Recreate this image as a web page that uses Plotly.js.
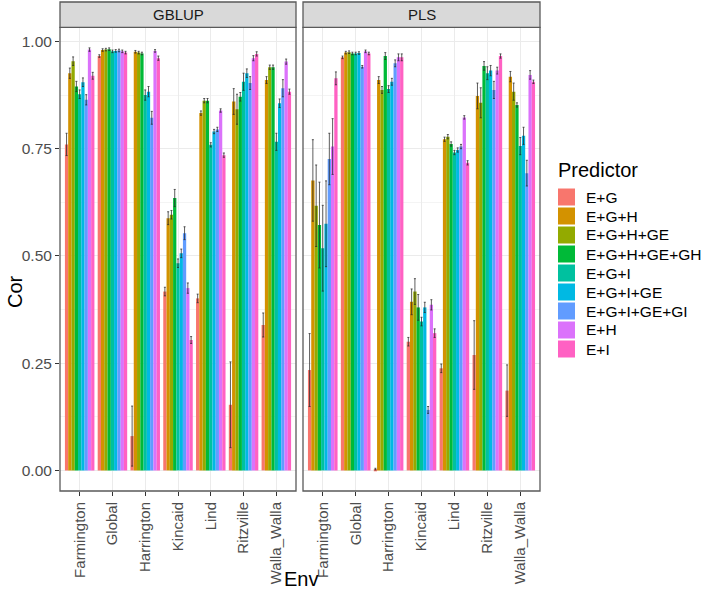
<!DOCTYPE html>
<html>
<head>
<meta charset="utf-8">
<script src="https://cdn.plot.ly/plotly-3.0.1.min.js"></script>
<style>
  html, body { margin: 0; padding: 0; background: #fff; }
  #chart { width: 706px; height: 602px; }
</style>
</head>
<body>
<div id="chart"></div>
<script>
// environments on the x axis, one facet per model
const envs = ["Farmington", "Global", "Harrington", "Kincaid", "Lind", "Ritzville", "Walla_Walla"];
const models = ["GBLUP", "PLS"];
const predictors = ["E+G", "E+G+H", "E+G+H+GE", "E+G+H+GE+GH", "E+G+I", "E+G+I+GE", "E+G+I+GE+GI", "E+H", "E+I"];
const colors = ["#F8766D", "#D39200", "#93AA00", "#00BA38", "#00C19F", "#00B9E3", "#619CFF", "#DB72FB", "#FF61C3"];
const yTicks = [0, 0.25, 0.5, 0.75, 1];
const yTickText = ["0.00", "0.25", "0.50", "0.75", "1.00"];

// mean correlation, one row per predictor (same order as envs)
const gblupCor = [
  [0.760, 0.966, 0.080, 0.417, 0.401, 0.153, 0.339],
  [0.926, 0.980, 0.976, 0.588, 0.833, 0.860, 0.910],
  [0.954, 0.981, 0.974, 0.596, 0.862, 0.842, 0.940],
  [0.895, 0.982, 0.972, 0.635, 0.862, 0.871, 0.940],
  [0.877, 0.977, 0.875, 0.483, 0.759, 0.906, 0.766],
  [0.905, 0.978, 0.883, 0.506, 0.790, 0.926, 0.856],
  [0.864, 0.979, 0.822, 0.553, 0.795, 0.903, 0.891],
  [0.981, 0.977, 0.978, 0.425, 0.839, 0.961, 0.953],
  [0.920, 0.974, 0.961, 0.304, 0.735, 0.971, 0.883]
];
const gblupErr = [
  [0.026, 0.003, 0.070, 0.010, 0.010, 0.100, 0.028],
  [0.012, 0.003, 0.003, 0.015, 0.005, 0.030, 0.008],
  [0.010, 0.003, 0.003, 0.010, 0.005, 0.035, 0.005],
  [0.012, 0.003, 0.003, 0.020, 0.005, 0.010, 0.005],
  [0.010, 0.003, 0.012, 0.010, 0.005, 0.020, 0.020],
  [0.010, 0.003, 0.012, 0.010, 0.005, 0.010, 0.010],
  [0.012, 0.003, 0.015, 0.015, 0.005, 0.015, 0.020],
  [0.004, 0.003, 0.003, 0.012, 0.004, 0.006, 0.006],
  [0.008, 0.003, 0.005, 0.008, 0.005, 0.005, 0.006]
];
const plsCor = [
  [0.234, 0.963, 0.003, 0.300, 0.238, 0.269, 0.186],
  [0.676, 0.974, 0.910, 0.393, 0.772, 0.873, 0.918],
  [0.617, 0.975, 0.887, 0.417, 0.778, 0.857, 0.883],
  [0.572, 0.972, 0.966, 0.380, 0.761, 0.943, 0.852],
  [0.518, 0.972, 0.889, 0.347, 0.741, 0.926, 0.756],
  [0.575, 0.973, 0.906, 0.380, 0.747, 0.932, 0.780],
  [0.726, 0.941, 0.949, 0.141, 0.755, 0.887, 0.693],
  [0.755, 0.977, 0.963, 0.386, 0.823, 0.932, 0.922],
  [0.914, 0.972, 0.963, 0.320, 0.717, 0.966, 0.906]
];
const plsErr = [
  [0.085, 0.003, 0.002, 0.010, 0.010, 0.080, 0.060],
  [0.095, 0.003, 0.008, 0.030, 0.005, 0.030, 0.012],
  [0.095, 0.003, 0.008, 0.030, 0.005, 0.035, 0.020],
  [0.100, 0.003, 0.008, 0.030, 0.005, 0.010, 0.005],
  [0.100, 0.003, 0.008, 0.010, 0.005, 0.015, 0.020],
  [0.100, 0.003, 0.008, 0.012, 0.005, 0.012, 0.020],
  [0.060, 0.003, 0.008, 0.008, 0.005, 0.020, 0.030],
  [0.065, 0.003, 0.008, 0.012, 0.004, 0.008, 0.010],
  [0.015, 0.003, 0.008, 0.010, 0.005, 0.005, 0.004]
];

const W = 706, H = 602;
const px = (x) => x / W;
const py = (y) => (H - y) / H;
const panels = [[60, 296], [303, 540]];
const panelTop = 27.3, panelBottom = 491, stripTop = 2;
const FONT = "Liberation Sans, Arial, sans-serif";

function barTraces(cor, err, axis) {
  return predictors.map((p, i) => ({
    type: "bar",
    name: p,
    showlegend: false,
    x: envs,
    y: cor[i],
    xaxis: axis,
    yaxis: "y",
    marker: { color: colors[i], line: { width: 0 } },
    error_y: { type: "data", array: err[i], visible: true, color: "rgba(40,40,40,0.75)", thickness: 1, width: 1 },
    hovertemplate: `${p}<br>%{x}: %{y:.3f}<extra></extra>`
  }));
}

const data = [
  ...barTraces(gblupCor, gblupErr, "x"),
  ...barTraces(plsCor, plsErr, "x2")
];

function xAxis(i) {
  return {
    domain: [px(panels[i][0]), px(panels[i][1])],
    anchor: "y",
    type: "category",
    range: [-0.6, 6.6],
    tickangle: -90,
    ticks: "outside",
    ticklen: 4,
    tickcolor: "#333333",
    tickfont: { family: FONT, size: 15, color: "#4D4D4D" },
    showgrid: true,
    gridcolor: "#EBEBEB",
    gridwidth: 1,
    showline: false,
    zeroline: false,
    fixedrange: true
  };
}

const shapes = [];
const annotations = [];
panels.forEach((p, i) => {
  shapes.push({ type: "rect", xref: "paper", yref: "paper", x0: px(p[0]), x1: px(p[1]), y0: py(panelBottom), y1: py(panelTop), line: { color: "#5A5A5A", width: 1.3 }, fillcolor: "rgba(0,0,0,0)", layer: "above" });
  shapes.push({ type: "rect", xref: "paper", yref: "paper", x0: px(p[0]), x1: px(p[1]), y0: py(panelTop), y1: py(stripTop), line: { color: "#5A5A5A", width: 1.3 }, fillcolor: "#D9D9D9", layer: "above" });
  annotations.push({ xref: "paper", yref: "paper", x: px((p[0] + p[1]) / 2), y: py((panelTop + stripTop) / 2), text: models[i], showarrow: false, xanchor: "center", yanchor: "middle", font: { family: FONT, size: 15, color: "#1A1A1A" } });
});
annotations.push({ xref: "paper", yref: "paper", x: px(301), y: py(579), text: "Env", showarrow: false, xanchor: "center", yanchor: "middle", font: { family: FONT, size: 20, color: "#000" } });
annotations.push({ xref: "paper", yref: "paper", x: px(15), y: py(292), text: "Cor", textangle: -90, showarrow: false, xanchor: "center", yanchor: "middle", font: { family: FONT, size: 20, color: "#000" } });

// ggplot-style legend: square keys stacked without gaps
const legX = 558, legKey = 17, legTop = 197, legStep = 19;
annotations.push({ xref: "paper", yref: "paper", x: px(legX - 2), y: py(170), text: "Predictor", showarrow: false, xanchor: "left", yanchor: "middle", font: { family: FONT, size: 20, color: "#000" } });
predictors.forEach((p, i) => {
  const cy = legTop + i * legStep;
  shapes.push({ type: "rect", xref: "paper", yref: "paper", x0: px(legX), x1: px(legX + legKey), y0: py(cy + legKey / 2), y1: py(cy - legKey / 2), line: { width: 0 }, fillcolor: colors[i] });
  annotations.push({ xref: "paper", yref: "paper", x: px(legX + legKey + 9), y: py(cy), text: p, showarrow: false, xanchor: "left", yanchor: "middle", font: { family: FONT, size: 15.5, color: "#000" } });
});

const layout = {
  width: W,
  height: H,
  margin: { l: 0, r: 0, t: 0, b: 0 },
  paper_bgcolor: "#fff",
  plot_bgcolor: "#fff",
  barmode: "group",
  bargap: 0.1,
  bargroupgap: 0,
  showlegend: false,
  xaxis: xAxis(0),
  xaxis2: xAxis(1),
  yaxis: {
    domain: [py(panelBottom), py(panelTop)],
    anchor: "x",
    range: [-0.048, 1.033],
    tickvals: yTicks,
    ticktext: yTickText,
    ticks: "outside",
    ticklen: 4,
    tickcolor: "#333333",
    tickfont: { family: FONT, size: 15.5, color: "#4D4D4D" },
    showgrid: true,
    gridcolor: "#EBEBEB",
    minor: { dtick: 0.125, tick0: 0.125, showgrid: true, gridcolor: "#F4F4F4", ticks: "" },
    zeroline: false,
    showline: false,
    fixedrange: true
  },
  shapes,
  annotations
};

Plotly.newPlot("chart", data, layout, { displayModeBar: false });
</script>
</body>
</html>
